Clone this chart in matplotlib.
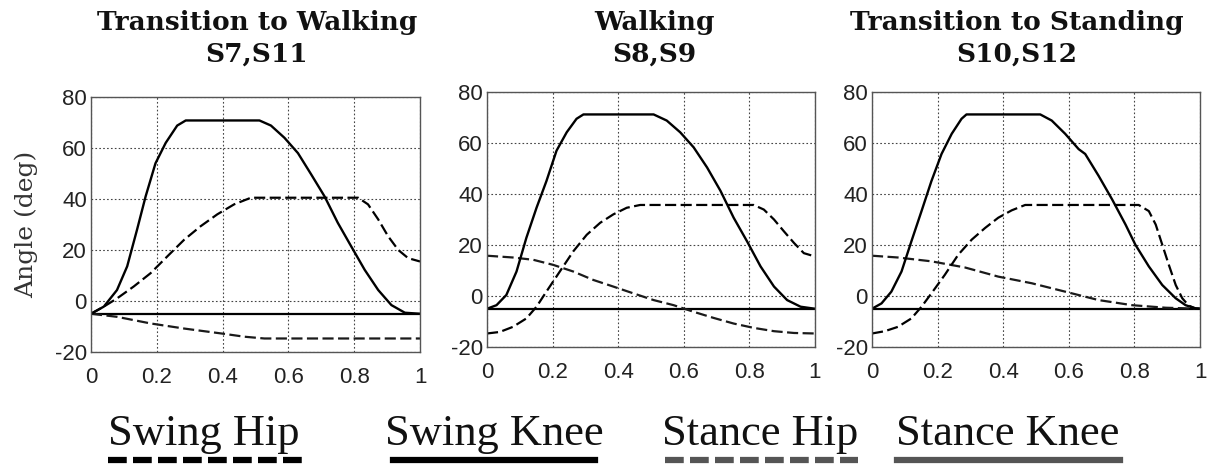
import matplotlib
matplotlib.use("Agg")
import matplotlib.pyplot as plt
from matplotlib.lines import Line2D

titles = ["Transition to Walking\nS7,S11", "Walking\nS8,S9", "Transition to Standing\nS10,S12"]
legend_labels = ["Swing Hip", "Swing Knee", "Stance Hip", "Stance Knee"]

# panel 1 - transition to walking (gait phase 0..1, angle in deg)
tw_knee_x = [0, 0.039, 0.079, 0.11, 0.14, 0.166, 0.196, 0.227, 0.262, 0.288, 0.512, 0.547, 0.588,
             0.629, 0.669, 0.71, 0.75, 0.791, 0.832, 0.873, 0.913, 0.954, 1.0]
tw_knee_y = [-5, -2.2, 4.3, 13.6, 28, 41, 54, 62, 68.8, 70.8, 70.8, 68.8, 64,
             58, 49.7, 41, 30.7, 21.4, 12.2, 4.3, -1.6, -4.6, -5]
tw_hip_x = [0, 0.039, 0.079, 0.13, 0.181, 0.232, 0.283, 0.333, 0.384, 0.435, 0.486, 0.812,
            0.842, 0.873, 0.903, 0.934, 0.964, 1.0]
tw_hip_y = [-5, -2.2, 1, 5.7, 10.9, 17.5, 24, 29.3, 34, 37.9, 40.5, 40.5,
            37.9, 32, 25.4, 20, 16.8, 15.5]
tw_st_hip_x = [0, 0.079, 0.181, 0.283, 0.4, 0.466, 0.527, 1.0]
tw_st_hip_y = [-5, -6.2, -8.8, -10.8, -12.8, -14, -14.7, -14.7]
tw_st_knee_y = [-5, -5]

# panel 2 - walking
wk_knee_x = [0, 0.029, 0.059, 0.09, 0.12, 0.151, 0.181, 0.212, 0.243, 0.273, 0.294, 0.508, 0.548,
             0.589, 0.63, 0.671, 0.712, 0.752, 0.793, 0.834, 0.875, 0.915, 0.956, 1.0]
wk_knee_y = [-5, -3.6, 0.4, 9.6, 22.8, 34.6, 45, 57, 64.2, 69.5, 71.2, 71.2, 68.8,
             64.2, 58.3, 50.4, 41.2, 30.7, 21.4, 11.6, 3.7, -1.6, -4.2, -5]
wk_hip_x = [0, 0.039, 0.079, 0.12, 0.151, 0.181, 0.222, 0.263, 0.304, 0.345, 0.385, 0.426, 0.467,
            0.813, 0.844, 0.875, 0.905, 0.936, 0.966, 1.0]
wk_hip_y = [-14.7, -14.1, -12.1, -8.8, -4.2, 1.7, 9.6, 17.5, 24, 28.7, 32, 34.6, 35.7,
            35.7, 33.9, 30, 25.4, 20.8, 16.8, 15.5]
wk_st_hip_x = [0, 0.079, 0.141, 0.202, 0.263, 0.324, 0.385, 0.447, 0.508, 0.569, 0.63, 0.691,
               0.752, 0.813, 0.875, 0.936, 1.0]
wk_st_hip_y = [15.8, 15.1, 14.2, 12.2, 9.6, 6.3, 3.7, 1, -1.6, -3.6, -6.2, -8.6,
               -10.8, -12.5, -13.8, -14.5, -14.7]
wk_st_knee_y = [-5, -5]

# panel 3 - transition to standing
ts_knee_x = [0, 0.029, 0.059, 0.09, 0.12, 0.151, 0.181, 0.212, 0.243, 0.273, 0.288, 0.513, 0.548,
             0.589, 0.63, 0.65, 0.691, 0.732, 0.773, 0.803, 0.844, 0.885, 0.926, 0.956, 0.987, 1.0]
ts_knee_y = [-5, -2.9, 1.7, 9.6, 21.4, 33.3, 45, 55.7, 63.6, 69.5, 71.2, 71.2, 68.8,
             63.6, 57.6, 55.7, 47.1, 37.9, 28, 20.1, 11.6, 4.3, -0.9, -3.6, -4.9, -5]
ts_hip_x = [0, 0.039, 0.079, 0.12, 0.151, 0.181, 0.222, 0.263, 0.304, 0.345, 0.385, 0.426, 0.467,
            0.813, 0.844, 0.865, 0.885, 0.905, 0.926, 0.946, 0.966, 0.987, 1.0]
ts_hip_y = [-14.7, -13.8, -12.1, -8.8, -4.2, 1, 8.3, 16.2, 22.1, 26.7, 30.7, 33.6, 35.7,
            35.7, 33.3, 28, 20.1, 12.2, 4.3, -0.9, -3.8, -4.9, -5]
ts_st_hip_x = [0, 0.079, 0.181, 0.283, 0.385, 0.487, 0.589, 0.691, 0.793, 0.895, 1.0]
ts_st_hip_y = [15.8, 15.1, 13.6, 11.2, 7.6, 5, 1.7, -1.6, -3.6, -4.6, -5]
ts_st_knee_y = [-5, -5]

panels = [
    (tw_knee_x, tw_knee_y, tw_hip_x, tw_hip_y, tw_st_hip_x, tw_st_hip_y, tw_st_knee_y),
    (wk_knee_x, wk_knee_y, wk_hip_x, wk_hip_y, wk_st_hip_x, wk_st_hip_y, wk_st_knee_y),
    (ts_knee_x, ts_knee_y, ts_hip_x, ts_hip_y, ts_st_hip_x, ts_st_hip_y, ts_st_knee_y),
]

W, H = 1207, 466
fig = plt.figure(figsize=(W / 100, H / 100), dpi=100)

# axes boxes in pixels: left, top, right, bottom
boxes = [(91, 97, 420, 352), (487, 92, 815, 347), (872, 92, 1200, 347)]
title_x = [257, 654, 1017]

dash = (0, (5, 2))
for i, (box, p) in enumerate(zip(boxes, panels)):
    l, t, r, b = box
    ax = fig.add_axes([l / W, 1 - b / H, (r - l) / W, (b - t) / H])
    kx, ky, hx, hy, shx, shy, sky = p
    ax.plot([0, 1], sky, color="black", lw=1.6)
    ax.plot(shx, shy, color="#1a1a1a", lw=1.6, linestyle=dash)
    ax.plot(hx, hy, color="black", lw=1.6, linestyle=dash)
    ax.plot(kx, ky, color="black", lw=1.7)
    ax.set_xlim(0, 1)
    ax.set_ylim(-20, 80)
    ax.set_xticks([0, 0.2, 0.4, 0.6, 0.8, 1])
    ax.set_xticklabels(["0", "0.2", "0.4", "0.6", "0.8", "1"])
    ax.set_yticks([-20, 0, 20, 40, 60, 80])
    ax.set_yticklabels(["-20", "0", "20", "40", "60", "80"])
    ax.grid(True, color="#444444", linestyle=(0, (1.5, 2)), lw=0.8)
    ax.tick_params(length=0, labelsize=16, colors="#222222")
    ax.tick_params(axis="x", pad=11)
    ax.tick_params(axis="y", pad=3)
    for lab in ax.get_xticklabels() + ax.get_yticklabels():
        lab.set_family("Liberation Sans")
    for s in ax.spines.values():
        s.set_color("#555555")
        s.set_linewidth(1.0)
    fig.text(title_x[i] / W, 1 - 10 / H, titles[i], ha="center", va="top",
             fontsize=19, fontweight="bold", family="DejaVu Serif",
             linespacing=1.35, color="#111111")
    if i == 0:
        ax.set_ylabel("Angle (deg)", fontsize=18, family="DejaVu Serif",
                      color="#333333", labelpad=12)

# legend along the bottom
text_x = [204, 494, 760, 1008]
line_spans = [(108, 305), (393, 595), (665, 858), (897, 1120)]
styles = [("black", (0, (3, 1))), ("black", "-"), ("#555555", (0, (3, 1))), ("#555555", "-")]
for lab, tx, (x0, x1), (c, ls) in zip(legend_labels, text_x, line_spans, styles):
    fig.text(tx / W, 1 - 445 / H, lab, ha="center", va="baseline",
             fontsize=32, family="Liberation Serif", color="#111111")
    fig.add_artist(Line2D([x0 / W, x1 / W], [1 - 460 / H, 1 - 460 / H],
                          color=c, lw=4.5, linestyle=ls, transform=fig.transFigure))

fig.savefig("out.png", dpi=100)
